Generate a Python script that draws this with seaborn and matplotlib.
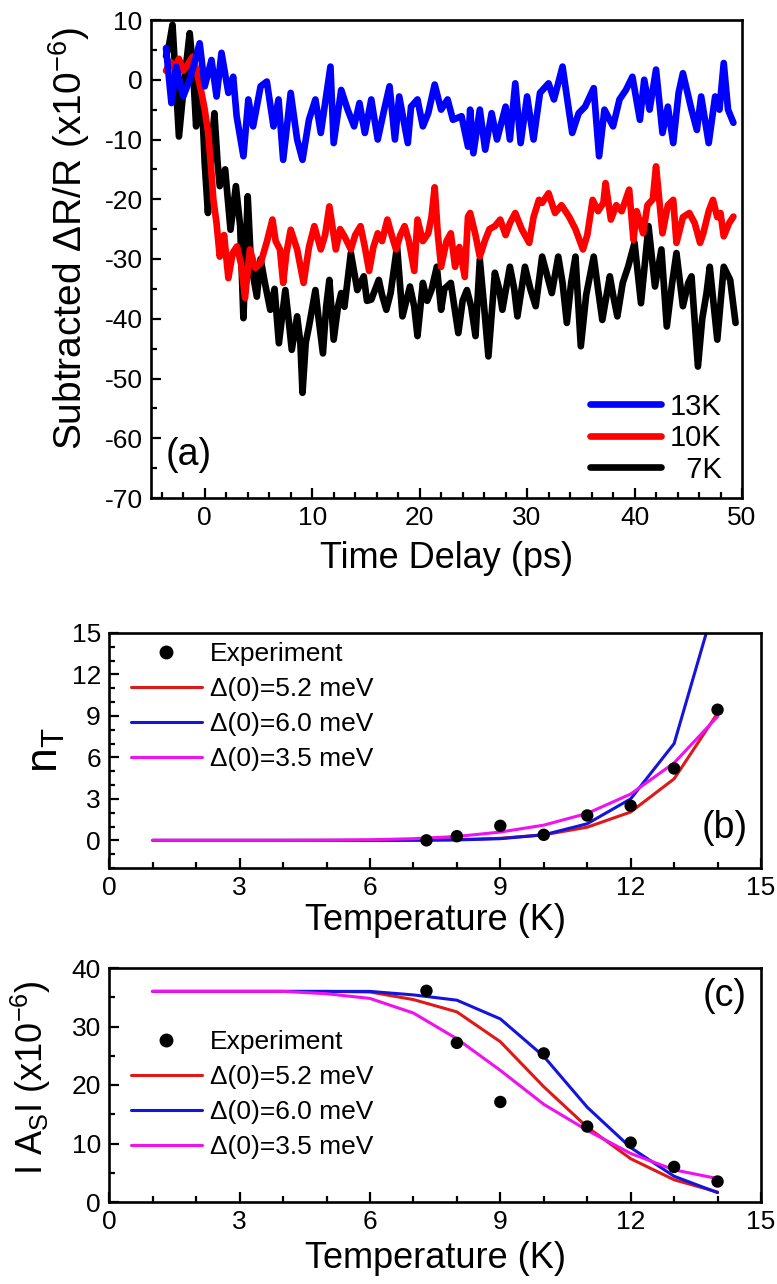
import numpy as np
import pandas as pd
import matplotlib
matplotlib.use("Agg")
import matplotlib.pyplot as plt
from matplotlib.lines import Line2D
from matplotlib.ticker import MultipleLocator
import seaborn as sns

# ---------------- data: panel (a) ----------------
t_13K = [-3.6, -3.1, -2.65, -2.0, -1.4, -0.47, 0.0, 0.63, 1.1, 1.56, 2.2, 2.65, 2.97, 3.6, 4.06, 4.5,
         5.2, 5.78, 6.4, 6.87, 7.3, 8.0, 8.6, 9.1, 9.7, 10.3, 10.8, 11.7, 12.0, 12.7, 13.3, 13.9, 14.4,
         14.9, 15.5, 16.1, 16.7, 17.2, 17.7, 18.1, 18.9, 19.2, 19.8, 20.3, 20.8, 21.4, 22.0, 22.6, 23.1,
         23.9, 24.5, 24.7, 25.0, 25.6, 26.1, 26.7, 27.2, 28.0, 28.4, 28.9, 29.4, 30.0, 30.6, 31.2, 32.0,
         32.5, 33.3, 33.7, 34.2, 34.8, 35.4, 36.2, 36.7, 37.2, 38.0, 38.6, 39.2, 39.8, 40.5, 40.9, 41.4,
         42.0, 42.6, 43.1, 43.6, 44.1, 44.5, 45.3, 45.8, 46.2, 46.9, 47.5, 47.9, 48.3, 48.7, 49.2]
v_13K = [5.3, -3.9, 2.2, -2.8, 0.0, 6.1, -1.1, 3.3, -2.8, 4.5, -2.2, 0.5, -6.1, -12.8, -3.3, -7.8,
         -1.1, -0.3, -7.8, -3.3, -13.4, -2.2, -10.0, -13.4, -6.7, -3.3, -8.9, 2.2, -10.6, -1.7, -5.0, -7.8, -3.9,
         -8.9, -3.3, -10.0, -5.0, -1.1, -10.0, -2.8, -10.6, -4.5, -3.3, -7.8, -5.6, -0.8, -5.0, -3.3, -6.7,
         -6.1, -11.2, -5.0, -12.3, -5.0, -11.7, -5.6, -10.0, -4.5, -10.0, -0.6, -10.6, -2.8, -10.0, -2.2, -0.6,
         -3.3, 2.2, -2.8, -8.9, -5.6, -4.5, -1.4, -12.8, -5.0, -7.8, -3.3, -1.7, 0.5, -6.7, 0.0, -5.0,
         1.7, -8.9, -4.5, -10.6, -2.2, 1.1, -5.0, -8.4, -2.8, -10.6, -2.8, -5.0, 2.8, -5.0, -7.2]

t_10K = [-3.6, -3.2, -2.8, -2.4, -2.0, -1.6, -1.1, -0.7, -0.3, 0.0, 0.33, 0.6, 0.8, 1.1, 1.4, 1.8, 2.2,
         2.6, 3.0, 3.4, 3.75, 4.2, 4.7, 5.2, 5.8, 6.3, 6.6, 7.0, 7.3, 7.6, 8.0, 8.6, 9.2, 9.7, 10.2, 10.8,
         11.2, 11.6, 12.2, 12.6, 13.0, 13.6, 14.0, 14.5, 14.9, 15.3, 15.7, 16.1, 16.5, 17.0, 17.4, 17.8,
         18.2, 18.6, 19.0, 19.5, 19.8, 20.3, 20.8, 21.1, 21.4, 21.7, 22.0, 22.5, 22.9, 23.3, 23.7, 24.2,
         24.5, 24.7, 25.2, 25.6, 26.1, 26.5, 27.0, 27.5, 28.0, 28.4, 28.9, 29.5, 30.2, 30.6, 31.1, 31.4,
         32.0, 32.6, 33.2, 33.9, 34.5, 35.2, 35.6, 36.1, 36.6, 37.1, 37.3, 37.8, 38.3, 38.8, 39.5, 39.9,
         40.2, 40.8, 41.2, 41.7, 42.0, 42.6, 43.1, 43.6, 43.9, 44.5, 45.1, 45.6, 46.1, 46.4, 46.9, 47.3,
         47.7, 48.0, 48.3, 48.8, 49.2]
v_10K = [1.5, 3.0, 2.0, 3.5, 1.5, 2.5, 3.9, 1.0, -2.2, -5.0, -9.0, -15.0, -20.0, -24.0, -29.6, -26.0, -33.2,
         -29.0, -27.9, -31.0, -36.5, -28.4, -31.5, -30.7, -27.0, -23.4, -27.0, -28.4, -34.0, -29.0, -25.1, -28.4, -34.0, -28.0, -24.5, -28.4,
         -26.0, -21.2, -28.4, -25.0, -26.2, -28.4, -26.0, -24.5, -28.0, -32.0, -28.0, -25.7, -27.0, -23.4, -26.0, -28.4,
         -26.0, -24.5, -27.0, -32.0, -23.4, -27.0, -25.7, -23.0, -18.0, -26.0, -31.3, -27.0, -25.7, -31.3, -28.0, -33.0,
         -22.9, -22.3, -26.0, -29.6, -26.8, -25.0, -24.5, -23.4, -26.0, -24.0, -22.3, -25.0, -27.3, -23.0, -20.1, -20.6,
         -19.0, -22.3, -21.0, -22.9, -25.0, -28.4, -26.0, -20.1, -22.0, -20.6, -17.3, -23.4, -21.0, -22.0, -18.4, -26.8,
         -22.0, -25.7, -21.0, -20.0, -14.5, -25.7, -21.0, -20.1, -27.3, -23.0, -22.3, -24.0, -27.3, -25.7, -22.0, -20.1,
         -23.0, -22.3, -26.2, -24.0, -22.9]

t_7K = [-3.6, -3.3, -3.0, -2.7, -2.4, -2.0, -1.7, -1.4, -1.1, -0.8, -0.5, -0.2, 0.0, 0.3, 0.6, 0.9, 1.2,
        1.4, 1.9, 2.4, 2.9, 3.3, 3.6, 4.0, 4.3, 4.85, 5.2, 5.6, 6.1, 6.5, 6.9, 7.5, 7.8, 8.1, 8.6, 8.9,
        9.1, 9.4, 9.7, 10.3, 10.6, 11.0, 11.3, 11.6, 12.0, 12.4, 12.7, 13.0, 13.3, 13.6, 14.2, 14.8, 15.1,
        15.5, 16.2, 16.5, 16.9, 17.3, 17.9, 18.4, 19.1, 19.5, 19.8, 20.3, 20.7, 21.1, 21.6, 22.0, 22.3,
        22.9, 23.6, 24.0, 24.4, 24.8, 25.2, 25.6, 26.0, 26.4, 27.0, 27.4, 27.7, 28.4, 28.8, 29.1, 29.8,
        30.3, 30.8, 31.4, 31.9, 32.3, 32.9, 33.3, 33.7, 34.1, 34.5, 35.0, 35.5, 36.2, 36.6, 37.0, 37.7,
        38.0, 38.4, 38.9, 39.4, 40.0, 40.6, 41.3, 41.9, 42.5, 43.0, 43.5, 43.9, 44.5, 45.0, 45.3, 45.9,
        46.3, 46.7, 47.0, 47.7, 48.3, 48.9, 49.4]
v_7K = [4.0, 6.0, 9.2, 0.0, -9.5, -2.0, 3.0, 7.8, 2.0, -7.8, -0.3, -6.0, -14.0, -22.3, -12.0, -5.6, -14.0,
        -17.8, -15.0, -25.1, -17.8, -24.5, -39.9, -19.5, -30.7, -36.3, -30.0, -34.0, -38.5, -35.0, -44.1, -35.2, -40.0, -45.2, -39.6, -44.0,
        -52.4, -44.0, -41.3, -35.2, -40.0, -45.8, -38.0, -33.5, -43.5, -38.0, -35.7, -38.0, -33.5, -29.0, -35.2, -32.9, -37.0,
        -36.8, -33.5, -36.0, -38.5, -35.7, -27.9, -39.6, -34.6, -38.0, -42.9, -34.0, -37.0, -35.2, -31.3, -38.5, -35.0,
        -34.0, -42.4, -37.0, -35.2, -38.0, -42.9, -30.1, -38.0, -46.3, -32.3, -35.0, -38.5, -31.3, -35.0, -39.6, -31.3,
        -35.0, -37.9, -29.6, -33.0, -35.7, -29.6, -34.0, -40.7, -34.0, -29.6, -44.6, -36.0, -29.6, -35.0, -40.2, -32.9,
        -36.0, -39.6, -34.0, -31.3, -27.3, -37.4, -24.5, -34.6, -28.4, -41.3, -34.0, -29.0, -37.9, -34.0, -32.9, -48.0,
        -40.0, -35.7, -31.3, -43.5, -31.3, -33.5, -40.7]

# ---------------- data: panels (b) and (c) ----------------
T_exp = [7.3, 8, 9, 10, 11, 12, 13, 14]
nT_exp = [0.0, 0.3, 1.05, 0.4, 1.8, 2.5, 5.2, 9.45]
As_exp = [36.1, 27.2, 17.1, 25.4, 12.9, 10.15, 6.0, 3.5]

T_fit = [1, 2, 3, 4, 5, 6, 7, 8, 9, 10, 11, 12, 13, 14]
nT_52 = [0, 0, 0, 0, 0, 0, 0.01, 0.05, 0.15, 0.4, 0.95, 2.05, 4.45, 9.2]
nT_60 = [0, 0, 0, 0, 0, 0, 0.01, 0.03, 0.12, 0.4, 1.2, 3.0, 7.0, 17.8]
nT_35 = [0, 0, 0, 0, 0.01, 0.04, 0.12, 0.28, 0.6, 1.1, 1.95, 3.35, 5.6, 8.95]

As_52 = [36, 36, 36, 36, 36, 35.9, 34.6, 32.5, 27.4, 19.7, 12.8, 7.4, 3.8, 1.7]
As_60 = [36, 36, 36, 36, 36, 36, 35.4, 34.5, 31.3, 24.9, 16.2, 9.3, 4.4, 1.6]
As_35 = [36, 36, 36, 36, 35.6, 34.8, 32.3, 27.9, 22.5, 16.7, 12.25, 8.3, 5.5, 4.0]

trace_labels = ["13K", "10K", "  7K"]
fit_labels = ["\u0394(0)=5.2 meV", "\u0394(0)=6.0 meV", "\u0394(0)=3.5 meV"]

# ---------------- style ----------------
sns.set_theme(style="ticks")
plt.rcParams["font.family"] = ["Liberation Sans", "DejaVu Sans"]
plt.rcParams["mathtext.fontset"] = "custom"
plt.rcParams["mathtext.rm"] = "Liberation Sans"
plt.rcParams["mathtext.it"] = "Liberation Sans"
plt.rcParams["axes.unicode_minus"] = False
for key in ["text.color", "axes.labelcolor", "xtick.color", "ytick.color", "axes.edgecolor"]:
    plt.rcParams[key] = "black"

W, H = 777, 1284
fig = plt.figure(figsize=(W / 100, H / 100), dpi=100)


def px_axes(left, right, top, bottom):
    return fig.add_axes([left / W, (H - bottom) / H, (right - left) / W, (bottom - top) / H])


def style_axes(ax):
    for s in ax.spines.values():
        s.set_linewidth(1.9)
        s.set_color("black")
    ax.tick_params(which="both", direction="in", top=False, right=False, width=1.6, colors="black")
    ax.tick_params(which="major", length=7, labelsize=19, pad=6)
    ax.tick_params(which="minor", length=4)


# ---------------- panel (a) ----------------
axa = px_axes(151, 742, 20, 498)
traces = [(t_7K, v_7K, "black"), (t_10K, v_10K, "#ff0000"), (t_13K, v_13K, "#0000ff")]
for tt, vv, col in traces:
    df = pd.DataFrame({"t": tt, "v": vv})
    sns.lineplot(data=df, x="t", y="v", ax=axa, color=col, lw=4.8, estimator=None, sort=False)
axa.set_xlim(-5, 50)
axa.set_ylim(-70, 10)
axa.xaxis.set_major_locator(MultipleLocator(10))
axa.xaxis.set_minor_locator(MultipleLocator(2))
axa.yaxis.set_major_locator(MultipleLocator(10))
axa.yaxis.set_minor_locator(MultipleLocator(5))
style_axes(axa)
axa.set_xlabel("Time Delay (ps)", fontsize=26)
axa.set_ylabel("Subtracted \u0394R/R (x10$^{-6}$)", fontsize=28)
axa.xaxis.set_label_coords(0.5, -0.09)
axa.yaxis.set_label_coords(-0.10, 0.544)
handles_a = [Line2D([], [], color="#0000ff", lw=4.8), Line2D([], [], color="#ff0000", lw=4.8),
             Line2D([], [], color="black", lw=4.8)]
axa.legend(handles_a, trace_labels, loc="lower right", bbox_to_anchor=(0.966, 0.03), frameon=False,
           fontsize=21, handlelength=2.45, handletextpad=0.3, labelspacing=0.12, borderpad=0, borderaxespad=0)
axa.text(0.063, 0.09, "(a)", transform=axa.transAxes, fontsize=27, ha="center", va="center")

# ---------------- panels (b) and (c) ----------------
fit_colors = ["#e01818", "#1414dc", "#f010f0"]


def fit_panel(ax, exp_vals, fits):
    for vals, col in zip(fits, fit_colors):
        df = pd.DataFrame({"T": T_fit, "y": vals})
        sns.lineplot(data=df, x="T", y="y", ax=ax, color=col, lw=2.2, estimator=None, sort=False)
    dfe = pd.DataFrame({"T": T_exp, "y": exp_vals})
    sns.scatterplot(data=dfe, x="T", y="y", ax=ax, color="black", s=80, edgecolor="none", zorder=5)
    ax.set_xlim(0, 15)
    ax.xaxis.set_major_locator(MultipleLocator(3))
    ax.xaxis.set_minor_locator(MultipleLocator(1))
    style_axes(ax)
    handles = [Line2D([], [], ls="none", marker="o", color="black", markersize=9)] + \
              [Line2D([], [], color=c, lw=2.2) for c in fit_colors]
    return handles


axb = px_axes(109.3, 761, 633, 868)
hb = fit_panel(axb, nT_exp, [nT_52, nT_60, nT_35])
axb.set_ylim(-2, 15)
axb.yaxis.set_major_locator(MultipleLocator(3))
axb.yaxis.set_minor_locator(MultipleLocator(1))
axb.set_xlabel("Temperature (K)", fontsize=26)
axb.set_ylabel("n$_\\mathrm{T}$", fontsize=32)
axb.xaxis.set_label_coords(0.5, -0.15)
axb.yaxis.set_label_coords(-0.065, 0.5)
axb.legend(hb, ["Experiment"] + fit_labels, loc="upper left", bbox_to_anchor=(0.033, 0.962), frameon=False,
           fontsize=19, handlelength=2.7, handletextpad=0.3, labelspacing=0.42, borderpad=0, borderaxespad=0)
axb.text(0.944, 0.17, "(b)", transform=axb.transAxes, fontsize=27, ha="center", va="center")

axc = px_axes(109.3, 761, 968, 1202)
hc = fit_panel(axc, As_exp, [As_52, As_60, As_35])
axc.set_ylim(0, 40)
axc.yaxis.set_major_locator(MultipleLocator(10))
axc.yaxis.set_minor_locator(MultipleLocator(5))
axc.set_xlabel("Temperature (K)", fontsize=26)
axc.set_ylabel("I A$_\\mathrm{S}$I (x10$^{-6}$)", fontsize=26)
axc.xaxis.set_label_coords(0.5, -0.167)
axc.yaxis.set_label_coords(-0.086, 0.53)
axc.legend(hc, ["Experiment"] + fit_labels, loc="upper left", bbox_to_anchor=(0.033, 0.735), frameon=False,
           fontsize=19, handlelength=2.7, handletextpad=0.3, labelspacing=0.42, borderpad=0, borderaxespad=0)
axc.text(0.944, 0.88, "(c)", transform=axc.transAxes, fontsize=27, ha="center", va="center")

fig.savefig("out.png", dpi=100, facecolor="white")
